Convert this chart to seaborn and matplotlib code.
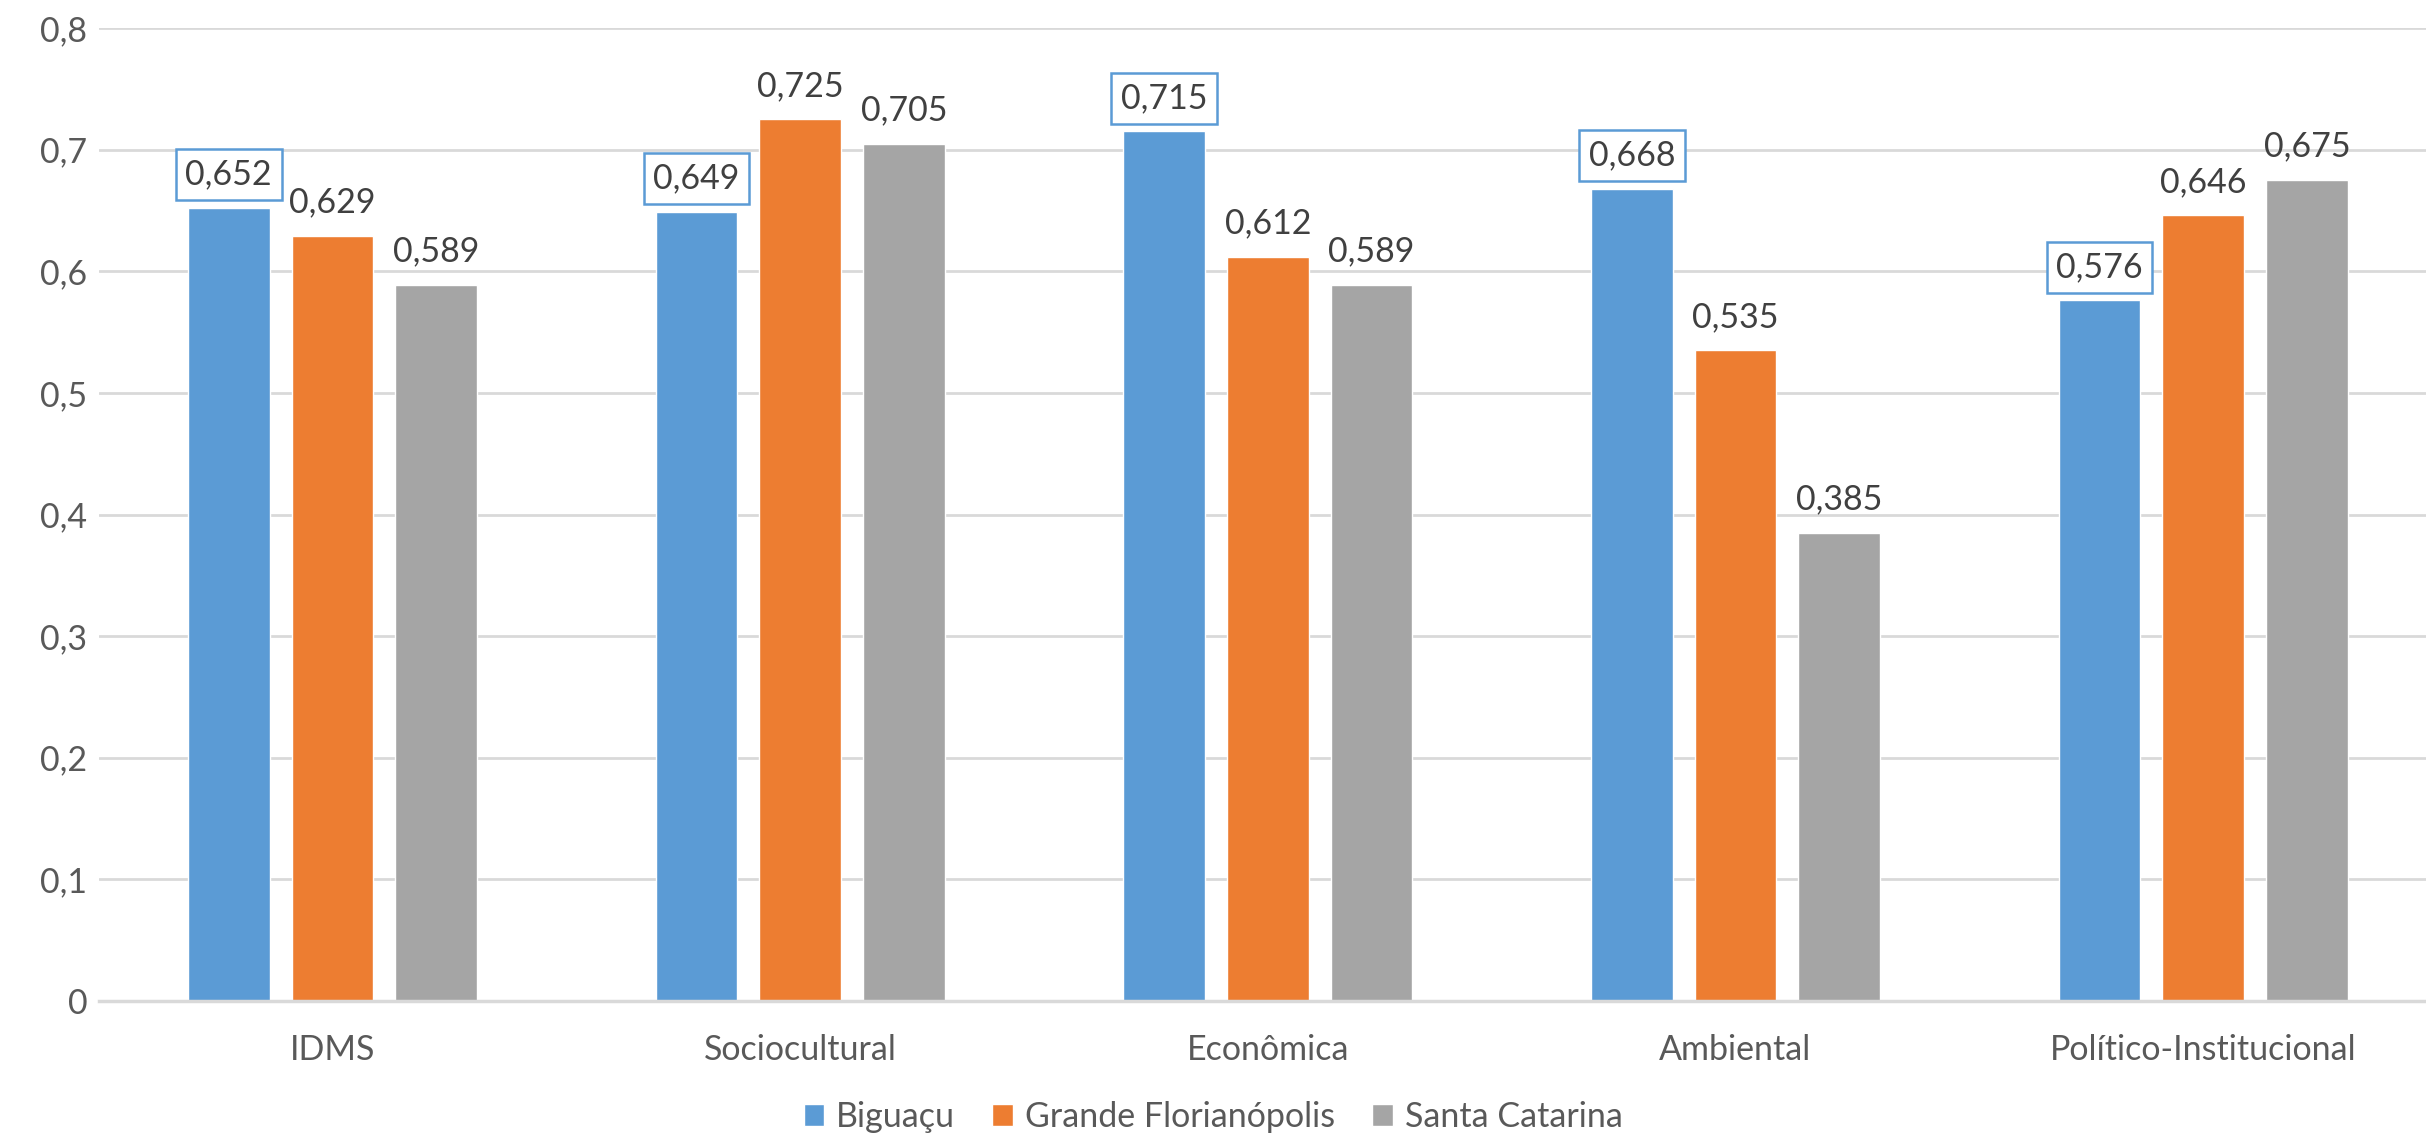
import matplotlib
matplotlib.use("Agg")
import matplotlib.pyplot as plt
import seaborn as sns
import pandas as pd
from matplotlib.ticker import FuncFormatter, MultipleLocator

categories = ["IDMS", "Sociocultural", "Econômica", "Ambiental", "Político-Institucional"]
series_names = ["Biguaçu", "Grande Florianópolis", "Santa Catarina"]
biguacu = [0.652, 0.649, 0.715, 0.668, 0.576]
grande_floripa = [0.629, 0.725, 0.612, 0.535, 0.646]
santa_catarina = [0.589, 0.705, 0.589, 0.385, 0.675]
colors = ["#5B9BD5", "#ED7D31", "#A5A5A5"]

rows = []
for name, vals in zip(series_names, [biguacu, grande_floripa, santa_catarina]):
    for c, v in zip(categories, vals):
        rows.append({"cat": c, "serie": name, "valor": v})
df = pd.DataFrame(rows)

sns.set_style("white")
plt.rcParams["font.family"] = ["Lato", "DejaVu Sans"]

FS = 24.5
fig = plt.figure(figsize=(24.26, 11.35), dpi=100)
left_px, right_px, top_px, zero_px = 98.6, 2437.0, 28.0, 1001.0
ax = fig.add_axes([left_px / 2426, 1 - zero_px / 1135, (right_px - left_px) / 2426, (zero_px - top_px) / 1135])

sns.barplot(data=df, x="cat", y="valor", hue="serie", order=categories,
            hue_order=series_names, palette=colors, width=0.665, gap=0.212,
            saturation=1, ax=ax, errorbar=None)

ax.set_ylim(0, 0.8)
ax.set_xlim(-0.5, len(categories) - 0.5)
ax.yaxis.set_major_locator(MultipleLocator(0.1))
ax.yaxis.set_major_formatter(FuncFormatter(lambda v, p: "0" if abs(v) < 1e-9 else f"{v:.1f}".replace(".", ",")))
ax.grid(axis="y", color="#D9D9D9", linewidth=2)
ax.set_axisbelow(True)
for s in ["top", "right", "left"]:
    ax.spines[s].set_visible(False)
ax.spines["bottom"].set_color("#D9D9D9")
ax.spines["bottom"].set_linewidth(2.5)
ax.tick_params(axis="both", length=0, labelsize=FS, labelcolor="#595959")
ax.tick_params(axis="y", pad=8)
ax.tick_params(axis="x", pad=24)
ax.set_xlabel("")
ax.set_ylabel("")

for i, cont in enumerate(ax.containers):
    for bar in cont:
        h = bar.get_height()
        x = bar.get_x() + bar.get_width() / 2
        txt = f"{h:.3f}".replace(".", ",")
        kw = {}
        if i == 0:
            kw["bbox"] = dict(boxstyle="square,pad=0.28", facecolor="white", edgecolor="#5B9BD5", linewidth=1.8)
        ax.annotate(txt, xy=(x, h), xytext=(0, 24), textcoords="offset points",
                    ha="center", va="center", fontsize=FS, color="#404040", **kw)

handles, labels = ax.get_legend_handles_labels()
if ax.get_legend() is not None:
    ax.get_legend().remove()
fig.legend(handles, labels, loc="center", bbox_to_anchor=(0.5, 1 - 1117 / 1135), ncol=3,
           frameon=False, fontsize=FS, labelcolor="#595959", handlelength=0.6,
           handleheight=0.6, handletextpad=0.35, columnspacing=1.1)

fig.savefig("out.png", dpi=100)
